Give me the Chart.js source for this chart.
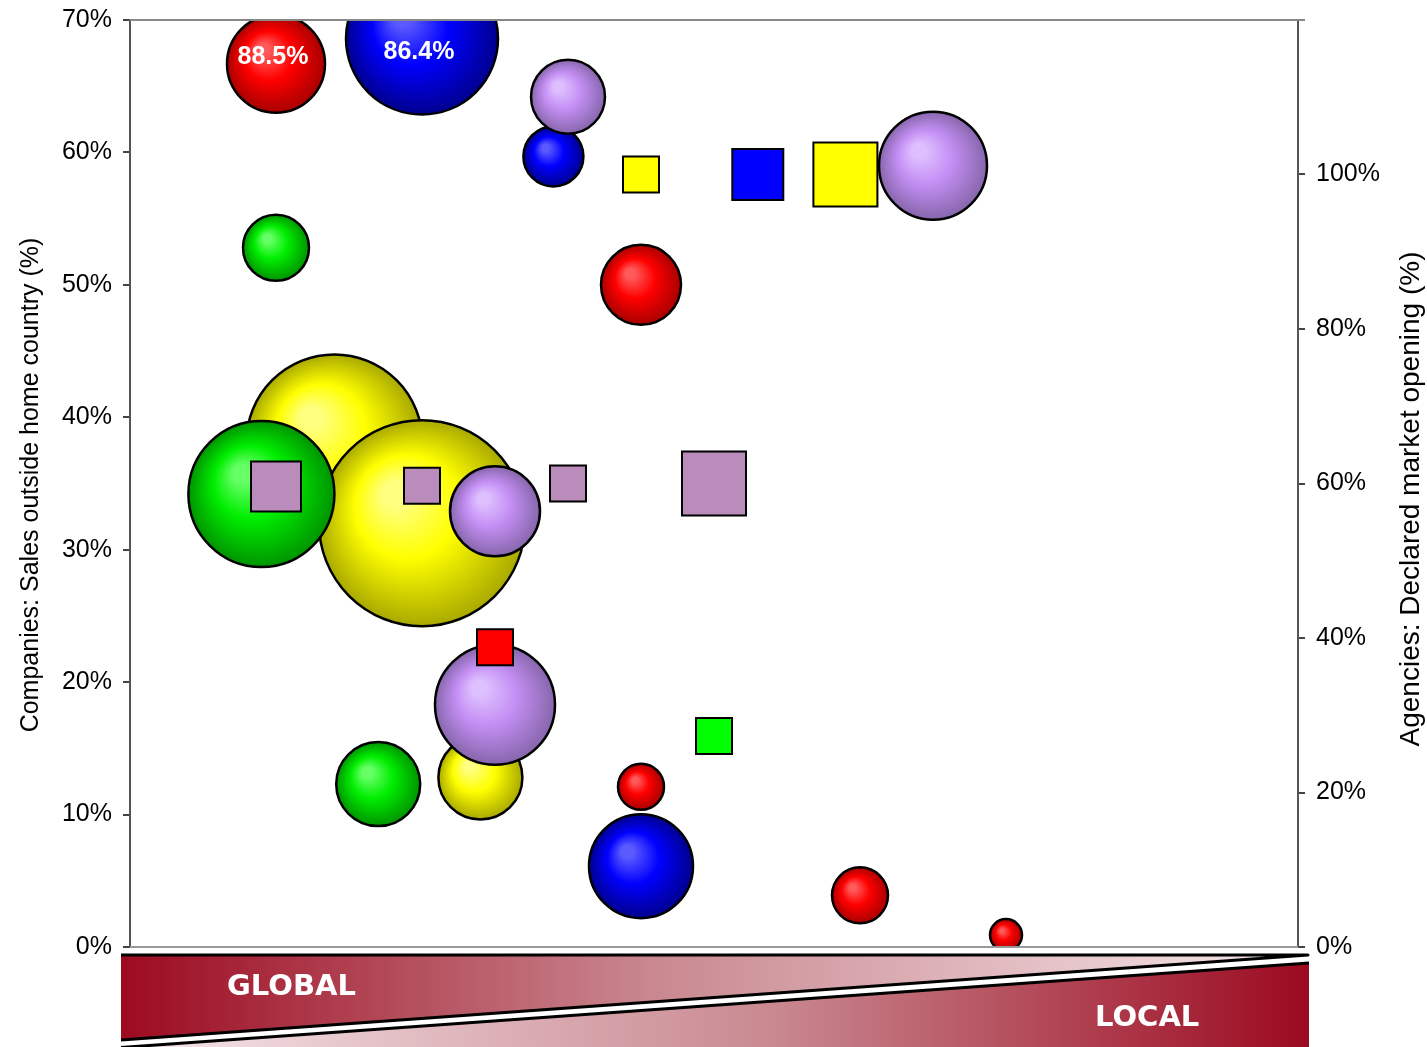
<!DOCTYPE html>
<html>
<head>
<meta charset="utf-8">
<script src="https://cdn.jsdelivr.net/npm/chart.js@4.4.1/dist/chart.umd.min.js"></script>
<style>
  html, body { margin: 0; padding: 0; background: #fff; }
  canvas { display: block; }
</style>
</head>
<body>
<canvas id="c" width="1427" height="1047"></canvas>
<script>
// ---------- DATA ----------
// Companies (bubbles, left axis: sales outside home country %)
const redX = [1.0, 3.5, 3.5, 5.0, 6.0];
const redY = [66.7, 50.0, 12.1, 3.9, 0.9];
const redSize = [49, 40, 23, 28, 16];
const redLabels = ['88.5%', '', '', '', ''];

const blueX = [2.0, 2.9, 3.5];
const blueY = [68.6, 59.7, 6.1];
const blueSize = [76, 30, 52];
const blueLabels = ['86.4%', '', ''];

const yellowX = [1.4, 2.0, 2.4];
const yellowY = [38.1, 32.0, 12.8];
const yellowSize = [88, 103, 42];

const greenX = [1.0, 0.9, 1.7];
const greenY = [52.8, 34.2, 12.3];
const greenSize = [33, 73, 42];

const purpleX = [3.0, 5.5, 2.5, 2.5];
const purpleY = [64.2, 59.0, 32.9, 18.3];
const purpleSize = [37, 54, 45, 60];

// Agencies (squares, right axis: declared market opening %)
const agYellowX = [3.5, 4.9];
const agYellowY = [100, 100];
const agYellowSize = [36, 64];

const agBlueX = [4.3];
const agBlueY = [100];
const agBlueSize = [51];

const agPurpleX = [1.0, 2.0, 3.0, 4.0];
const agPurpleY = [59.6, 59.7, 60, 60];
const agPurpleSize = [50, 36, 36, 64];

const agRedX = [2.5];
const agRedY = [38.8];
const agRedSize = [36];

const agGreenX = [4.0];
const agGreenY = [27.3];
const agGreenSize = [36];

const leftTitle = 'Companies: Sales outside home country (%)';
const rightTitle = 'Agencies: Declared market opening (%)';
const bandLeftText = 'GLOBAL';
const bandRightText = 'LOCAL';

// ---------- HELPERS ----------
function pts(xs, ys, rs) {
  return xs.map((x, i) => ({ x: x, y: ys[i], r: rs[i] }));
}
function sqPts(xs, ys, sides) {
  return xs.map((x, i) => ({ x: x, y: ys[i], r: sides[i] / Math.SQRT2 }));
}
function sphere(light, base, dark) {
  return function (c) {
    if (c.type !== 'data' || !c.raw) return base;
    const chart = c.chart;
    const xs = chart.scales.x, ys = chart.scales.y;
    if (!xs || !ys) return base;
    const cx = xs.getPixelForValue(c.raw.x);
    const cy = ys.getPixelForValue(c.raw.y);
    const r = c.raw.r;
    if (!isFinite(cx) || !isFinite(cy)) return base;
    const g = chart.ctx.createRadialGradient(cx - r * 0.3, cy - r * 0.32, 0, cx, cy, r);
    g.addColorStop(0, light);
    g.addColorStop(0.12, light);
    g.addColorStop(0.5, base);
    g.addColorStop(1, dark);
    return g;
  };
}
function bubbleSet(label, data, fill, order, labels) {
  return {
    label: label, data: data, backgroundColor: fill,
    borderColor: '#000', borderWidth: 2.5, clip: 0, order: order,
    yAxisID: 'y', pointLabels: labels || null
  };
}
function squareSet(label, data, color, order) {
  return {
    label: label, data: data, backgroundColor: color,
    borderColor: '#000', borderWidth: 2, clip: 0, order: order,
    pointStyle: 'rect', yAxisID: 'y2'
  };
}

const datasets = [
  bubbleSet('Red', pts(redX, redY, redSize), sphere('#ff5a5a', '#ff0000', '#a80000'), 9, redLabels),
  bubbleSet('Blue', pts(blueX, blueY, blueSize), sphere('#5a5aff', '#0000ff', '#00008e'), 8, blueLabels),
  bubbleSet('Yellow', pts(yellowX, yellowY, yellowSize), sphere('#ffff80', '#ffff00', '#a9a900'), 7),
  bubbleSet('Green', pts(greenX, greenY, greenSize), sphere('#66ff66', '#00ee00', '#009400'), 6),
  bubbleSet('Purple', pts(purpleX, purpleY, purpleSize), sphere('#dec0ff', '#c48ff4', '#8766ac'), 5),
  squareSet('Agencies yellow', sqPts(agYellowX, agYellowY, agYellowSize), '#ffff00', 4),
  squareSet('Agencies blue', sqPts(agBlueX, agBlueY, agBlueSize), '#0000ff', 4),
  squareSet('Agencies purple', sqPts(agPurpleX, agPurpleY, agPurpleSize), '#b98cbc', 3),
  squareSet('Agencies red', sqPts(agRedX, agRedY, agRedSize), '#ff0000', 2),
  squareSet('Agencies green', sqPts(agGreenX, agGreenY, agGreenSize), '#00ff00', 2)
];

const tickFont = { family: '"Liberation Sans", Arial, sans-serif', size: 25 };

const decor = {
  id: 'decor',
  afterDraw(chart) {
    const ctx = chart.ctx;
    const a = chart.chartArea;
    ctx.save();
    // top frame line & bottom axis line
    ctx.strokeStyle = '#888';
    ctx.lineWidth = 2;
    ctx.beginPath();
    ctx.moveTo(a.left, a.top); ctx.lineTo(a.right + 7, a.top);
    ctx.stroke();
    ctx.strokeStyle = '#999';
    ctx.beginPath();
    ctx.moveTo(a.left, a.bottom); ctx.lineTo(a.right, a.bottom);
    ctx.stroke();

    // bubble value labels
    ctx.fillStyle = '#fff';
    ctx.font = 'bold 25px "Liberation Sans", Arial, sans-serif';
    ctx.textAlign = 'center';
    ctx.textBaseline = 'middle';
    chart.data.datasets.forEach((ds, di) => {
      if (!ds.pointLabels) return;
      const meta = chart.getDatasetMeta(di);
      meta.data.forEach((el, i) => {
        const t = ds.pointLabels[i];
        if (!t) return;
        const y = Math.max(el.y - 7, a.top + 32);
        ctx.fillText(t, el.x - 3, y);
      });
    });

    // axis titles
    ctx.fillStyle = '#000';
    ctx.font = '25px "Liberation Sans", Arial, sans-serif';
    ctx.save();
    ctx.translate(31, 485);
    ctx.rotate(-Math.PI / 2);
    ctx.fillText(leftTitle, 0, 0);
    ctx.restore();
    ctx.font = '28px "Liberation Sans", Arial, sans-serif';
    ctx.save();
    ctx.translate(1411, 499);
    ctx.rotate(-Math.PI / 2);
    ctx.fillText(rightTitle, 0, 0);
    ctx.restore();

    // GLOBAL / LOCAL band
    const L = 121, R1 = 1306, R2 = 1309;
    const g1 = ctx.createLinearGradient(L, 0, R1, 0);
    g1.addColorStop(0, '#9c0a20');
    g1.addColorStop(0.45, '#c98890');
    g1.addColorStop(1, '#f6e8eb');
    ctx.fillStyle = g1;
    ctx.beginPath();
    ctx.moveTo(L, 955); ctx.lineTo(R1, 955); ctx.lineTo(L, 1040); ctx.closePath();
    ctx.fill();
    ctx.strokeStyle = '#000';
    ctx.lineWidth = 3;
    ctx.lineJoin = 'round';
    ctx.beginPath();
    ctx.moveTo(L, 955); ctx.lineTo(R1 + 2, 955); ctx.lineTo(L, 1040);
    ctx.stroke();

    const g2 = ctx.createLinearGradient(L, 0, R2, 0);
    g2.addColorStop(0, '#f6e8eb');
    g2.addColorStop(0.55, '#c98890');
    g2.addColorStop(1, '#9c0a20');
    ctx.fillStyle = g2;
    ctx.beginPath();
    ctx.moveTo(R2, 963); ctx.lineTo(R2, 1060); ctx.lineTo(L, 1060); ctx.lineTo(L, 1047.5); ctx.closePath();
    ctx.fill();
    ctx.beginPath();
    ctx.moveTo(R2, 963); ctx.lineTo(L, 1047.5);
    ctx.stroke();

    ctx.fillStyle = '#fff';
    ctx.font = 'bold 29px "DejaVu Sans", Verdana, sans-serif';
    ctx.textAlign = 'left';
    ctx.textBaseline = 'middle';
    ctx.fillText(bandLeftText, 227, 987);
    ctx.fillText(bandRightText, 1095, 1018);
    ctx.restore();
  }
};

function fixWidth(w) {
  return function (s) {
    s.width = w;
    s.paddingTop = 0;
    s.paddingBottom = 0;
  };
}

new Chart(document.getElementById('c'), {
  type: 'bubble',
  data: { datasets: datasets },
  options: {
    responsive: false,
    animation: false,
    events: [],
    layout: { autoPadding: false, padding: { top: 20, bottom: 100, left: 0, right: 0 } },
    plugins: { legend: { display: false }, tooltip: { enabled: false } },
    scales: {
      x: { type: 'linear', min: 0, max: 8, display: false },
      y: {
        position: 'left', min: 0, max: 70,
        ticks: { stepSize: 10, callback: v => v + '%', font: tickFont, color: '#000', padding: 11 },
        grid: { drawOnChartArea: false, tickLength: 7, color: '#444', lineWidth: 2 },
        border: { color: '#555', width: 2 },
        afterFit: fixWidth(130)
      },
      y2: {
        position: 'right', min: 0, max: 120,
        ticks: { stepSize: 20, callback: v => (v === 120 ? '' : v + '%'), font: tickFont, color: '#000', padding: 11 },
        grid: { drawOnChartArea: false, tickLength: 7, color: '#444', lineWidth: 2 },
        border: { color: '#555', width: 2 },
        afterFit: fixWidth(129)
      }
    }
  },
  plugins: [decor]
});
</script>
</body>
</html>
